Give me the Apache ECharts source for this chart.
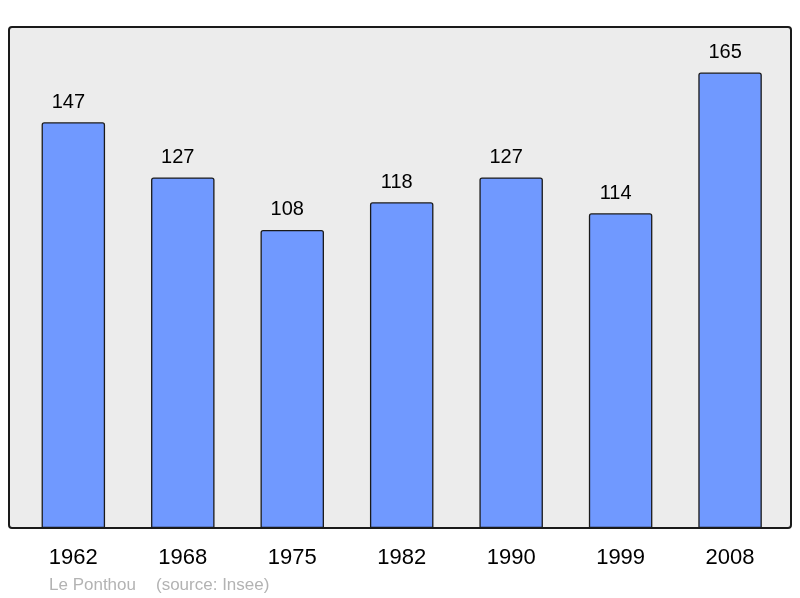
<!DOCTYPE html>
<html>
<head>
<meta charset="utf-8">
<script src="https://cdn.jsdelivr.net/npm/echarts@6/dist/echarts.min.js"></script>
<style>
html,body{margin:0;padding:0;background:#fff;}
#chart{width:800px;height:598px;}
</style>
</head>
<body>
<div id="chart"></div>
<script>
const years = ['1962', '1968', '1975', '1982', '1990', '1999', '2008'];
const population = [147, 127, 108, 118, 127, 114, 165];
const placeName = 'Le Ponthou';
const sourceText = '(source: Insee)';

const chart = echarts.init(document.getElementById('chart'), null, {renderer: 'canvas'});
const maxVal = Math.max(...population) * 1.1;

chart.setOption({
  animation: false,
  backgroundColor: '#ffffff',
  textStyle: {fontFamily: 'Liberation Sans, Arial, sans-serif'},
  graphic: [
    {
      type: 'rect',
      z: 0,
      shape: {x: 9, y: 27, width: 782, height: 501, r: 3},
      style: {fill: '#ececec', stroke: '#1a1a1a', lineWidth: 2}
    },
    {
      type: 'text',
      left: 49,
      top: 577,
      style: {text: placeName, fill: '#b3b3b3', font: '17px "Liberation Sans", Arial, sans-serif'}
    },
    {
      type: 'text',
      left: 156,
      top: 577,
      style: {text: sourceText, fill: '#b3b3b3', font: '17px "Liberation Sans", Arial, sans-serif'}
    }
  ],
  grid: {left: 18.6, right: 15.2, top: 27, bottom: 70, containLabel: false},
  xAxis: {
    type: 'category',
    data: years,
    boundaryGap: true,
    axisLine: {show: false},
    axisTick: {show: false},
    axisLabel: {
      color: '#000',
      fontSize: 22,
      margin: 19,
      fontFamily: 'Liberation Sans, Arial, sans-serif'
    }
  },
  yAxis: {
    type: 'value',
    min: 0,
    max: maxVal,
    show: false,
    splitLine: {show: false}
  },
  series: [{
    type: 'bar',
    data: population,
    barWidth: '58%',
    z: 5,
    itemStyle: {
      color: '#7099ff',
      borderColor: '#1a1a1a',
      borderWidth: 1.3,
      borderRadius: [2, 2, 0, 0]
    },
    label: {
      show: true,
      position: 'top',
      distance: 10,
      offset: [-5, 0],
      color: '#000',
      fontSize: 20,
      fontFamily: 'Liberation Sans, Arial, sans-serif'
    }
  }]
});
</script>
</body>
</html>
